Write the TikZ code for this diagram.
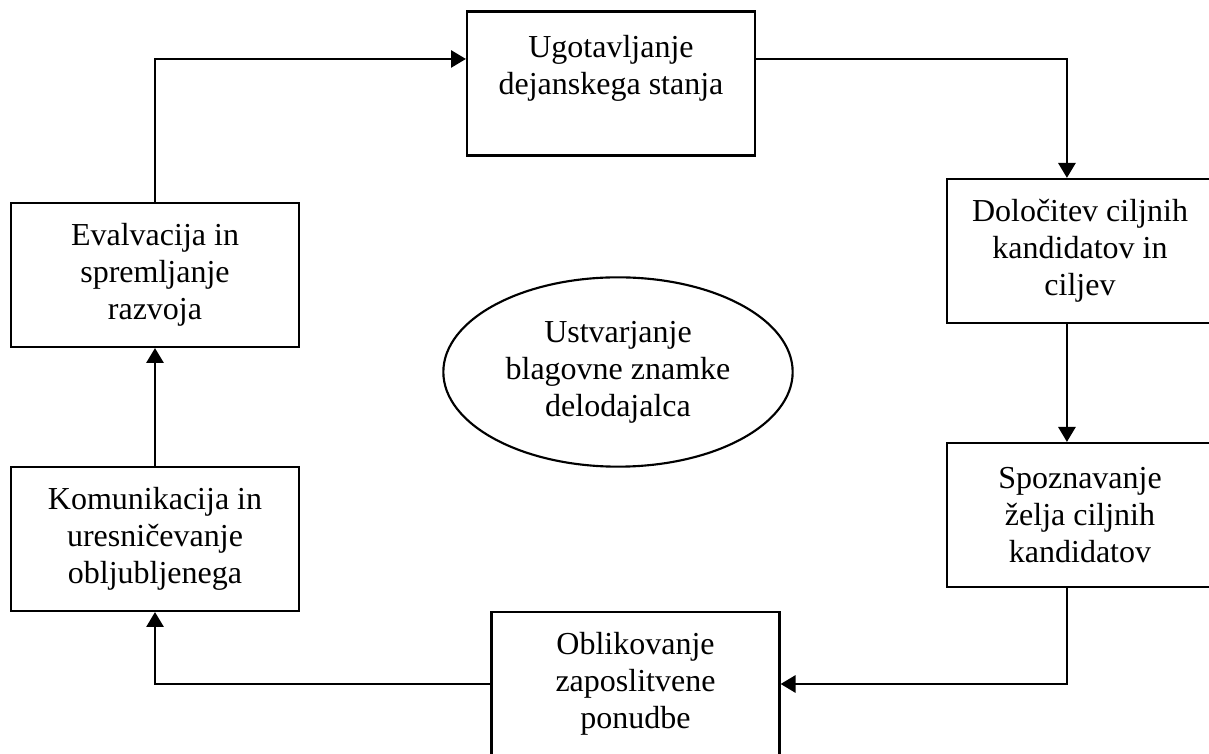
\documentclass[tikz,border=0pt]{standalone}
\usepackage{fontspec}
\setmainfont{Liberation Serif}
\usetikzlibrary{positioning,shapes.geometric,arrows.meta}

\begin{document}
\begin{tikzpicture}[x=0.375pt,y=-0.375pt,node distance=99pt,on grid,
    >={Triangle[length=5.6pt,width=6.4pt]},
    box/.style={draw,line width=0.8pt,minimum width=108pt,minimum height=54pt,
      inner sep=0pt,align=center,font=\fontsize{12}{13.9}\selectfont},
    rbox/.style={box,minimum width=99.75pt},
    brand/.style={draw,ellipse,line width=0.8pt,minimum width=131pt,minimum height=71pt,
      inner sep=0pt,align=center,font=\fontsize{12}{13.9}\selectfont},
    link/.style={->,line width=1pt}]
    \clip (0,0) rectangle (1209,754);
    \node[box] (ugo) at (611,83.5) {Ugotavljanje\\dejanskega stanja\\~};
    \node[rbox] (dol) at (1080,251) {Določitev ciljnih\\kandidatov in\\ciljev};
    \node[rbox] (spoz) [below=of dol] {Spoznavanje\\želja ciljnih\\kandidatov};
    \node[box] (obl) at (635.5,684) {Oblikovanje\\zaposlitvene\\ponudbe};
    \node[box] (eva) at (155,275) {Evalvacija in\\spremljanje\\razvoja};
    \node[box] (kom) [below=of eva] {Komunikacija in\\uresničevanje\\obljubljenega};
    \node[brand] (ustv) at (618,372) {Ustvarjanje\\blagovne znamke\\delodajalca};
    % cikel
    \draw[link] (eva.north) |- ([yshift=9.2pt]ugo.west);
    \draw[link] ([yshift=9.2pt]ugo.east) -| ([xshift=-4.9pt]dol.north);
    \draw[link] ([xshift=-4.9pt]dol.south) -- ([xshift=-4.9pt]spoz.north);
    \draw[link] ([xshift=-4.9pt]spoz.south) |- (obl.east);
    \draw[link] (obl.west) -| (kom.south);
    \draw[link] (kom.north) -- (eva.south);
\end{tikzpicture}
\end{document}
